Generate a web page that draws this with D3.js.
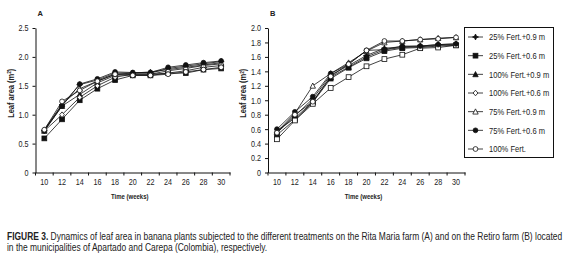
<!DOCTYPE html>
<html>
<head>
<meta charset="utf-8">
<script src="https://cdn.jsdelivr.net/npm/d3@7"></script>
<style>
  body { margin: 0; background: #fff; }
  svg text { font-family: "Liberation Sans", Arial, sans-serif; fill: #222; }
</style>
</head>
<body>
<div id="chart"></div>
<script>
// weeks on the x axis
let weeks = [10, 12, 14, 16, 18, 20, 22, 24, 26, 28, 30]
let seriesNames = ['25% Fert.+0.9 m', '25% Fert.+0.6 m', '100% Fert.+0.9 m', '100% Fert.+0.6 m',
                   '75% Fert.+0.9 m', '75% Fert.+0.6 m', '100% Fert.']
// marker per series: shape + filled
let markerShapes = ['star', 'square', 'triangle', 'diamond', 'triangle', 'circle', 'circle']
let markerFilled = [true, true, true, false, false, true, false]

// Rita Maria farm (A)
let farmA = [
  [0.73, 1.17, 1.52, 1.60, 1.72, 1.72, 1.72, 1.80, 1.84, 1.88, 1.92],
  [0.59, 0.92, 1.25, 1.45, 1.60, 1.68, 1.68, 1.72, 1.72, 1.78, 1.80],
  [0.72, 1.15, 1.35, 1.55, 1.68, 1.70, 1.70, 1.76, 1.80, 1.85, 1.88],
  [0.72, 1.00, 1.30, 1.50, 1.65, 1.70, 1.70, 1.72, 1.76, 1.82, 1.85],
  [0.74, 1.18, 1.45, 1.58, 1.70, 1.72, 1.74, 1.78, 1.82, 1.86, 1.90],
  [0.72, 1.15, 1.53, 1.62, 1.74, 1.73, 1.73, 1.82, 1.86, 1.90, 1.93],
  [0.74, 1.23, 1.42, 1.58, 1.70, 1.68, 1.68, 1.70, 1.74, 1.78, 1.82]
]
// Retiro farm (B)
let farmB = [
  [0.55, 0.78, 1.02, 1.35, 1.48, 1.62, 1.72, 1.74, 1.75, 1.77, 1.78],
  [0.52, 0.73, 0.97, 1.30, 1.45, 1.58, 1.68, 1.72, 1.73, 1.75, 1.76],
  [0.58, 0.75, 0.98, 1.32, 1.46, 1.60, 1.70, 1.73, 1.74, 1.76, 1.77],
  [0.46, 0.72, 0.95, 1.17, 1.32, 1.47, 1.57, 1.63, 1.72, 1.73, 1.76],
  [0.56, 0.82, 1.20, 1.37, 1.52, 1.68, 1.80, 1.82, 1.84, 1.86, 1.87],
  [0.60, 0.84, 1.05, 1.37, 1.50, 1.69, 1.70, 1.75, 1.75, 1.77, 1.78],
  [0.55, 0.80, 0.98, 1.33, 1.50, 1.69, 1.82, 1.82, 1.84, 1.85, 1.87]
]
let yTicksA = [0, 0.5, 1.0, 1.5, 2.0, 2.5]
let yTicksB = [0, 0.2, 0.4, 0.6, 0.8, 1.0, 1.2, 1.4, 1.6, 1.8, 2.0]

const W = 576, H = 255
const NARROW = 0.8   // horizontal squeeze to mimic a condensed face
let svg = d3.select('#chart').append('svg').attr('width', W).attr('height', H)

function marker(g, shape, filled, cx, cy) {
  let s = 2.4
  let el
  if (shape == 'circle') {
    el = g.append('circle').attr('cx', cx).attr('cy', cy).attr('r', s)
  } else if (shape == 'square') {
    el = g.append('rect').attr('x', cx - s).attr('y', cy - s).attr('width', 2 * s).attr('height', 2 * s)
  } else if (shape == 'triangle') {
    el = g.append('path').attr('d', `M${cx},${cy - s - 0.4}L${cx + s + 0.3},${cy + s}L${cx - s - 0.3},${cy + s}Z`)
  } else if (shape == 'star') {
    let a = s + 0.6, b = 0.9
    el = g.append('path').attr('d', `M${cx},${cy - a}L${cx + b},${cy - b}L${cx + a},${cy}L${cx + b},${cy + b}L${cx},${cy + a}L${cx - b},${cy + b}L${cx - a},${cy}L${cx - b},${cy - b}Z`)
  } else {
    el = g.append('path').attr('d', `M${cx},${cy - s - 0.4}L${cx + s},${cy}L${cx},${cy + s + 0.4}L${cx - s},${cy}Z`)
  }
  el.attr('fill', filled ? '#111' : '#fff').attr('stroke', '#111').attr('stroke-width', 0.8)
}

// squeezed text, anchored at (x, y)
function narrowText(g, x, y, size, k) {
  return g.append('g').attr('transform', `translate(${x},${y}) scale(${k || NARROW},1)`)
    .append('text').style('font-size', size + 'px')
}

function drawPanel(opts) {
  let x = d3.scaleBand().domain(weeks).range([opts.left, opts.right]).padding(0)
  let y = d3.scaleLinear().domain([0, opts.ymax]).range([opts.bottom, opts.top])
  let g = svg.append('g')

  // y axis
  let yAx = g.append('g').attr('transform', `translate(${opts.left},0)`)
    .call(d3.axisLeft(y).tickValues(opts.yTicks).tickSize(3).tickSizeOuter(0).tickFormat(d => d === 0 ? '0' : d3.format('.1f')(d)))
  yAx.select('.domain').attr('stroke', '#111')
  yAx.selectAll('.tick line').attr('stroke', '#111')
  yAx.selectAll('text').style('font-size', '9px').attr('fill', '#222')
    .attr('transform', `translate(-7,0) scale(${NARROW},1)`).attr('x', 0).attr('text-anchor', 'end')

  // x axis: labels centred, ticks between categories
  let xAx = g.append('g').attr('transform', `translate(0,${opts.bottom})`)
    .call(d3.axisBottom(x).tickSize(0).tickPadding(6))
  xAx.select('.domain').attr('stroke', '#111')
  xAx.selectAll('text').style('font-size', '9px').attr('fill', '#222')
    .attr('x', 0).attr('transform', `scale(${NARROW},1)`)
  xAx.selectAll('.bound').data(weeks.concat(['end'])).enter().append('line')
    .attr('x1', d => d === 'end' ? opts.right : x(d)).attr('x2', d => d === 'end' ? opts.right : x(d))
    .attr('y1', 0).attr('y2', 3).attr('stroke', '#111')

  // series
  let line = d3.line().x((d, i) => x(weeks[i]) + x.bandwidth() / 2).y(d => y(d))
  opts.data.forEach((vals, k) => {
    g.append('path').datum(vals).attr('d', line).attr('fill', 'none').attr('stroke', '#111').attr('stroke-width', 0.8)
  })
  opts.data.forEach((vals, k) => {
    let shape = (opts.plotSquare && k == 3) ? 'square' : markerShapes[k]
    vals.forEach((v, i) => marker(g, shape, markerFilled[k], x(weeks[i]) + x.bandwidth() / 2, y(v)))
  })

  // labels
  g.append('text').text(opts.name).attr('x', opts.left + 2).attr('y', 16).style('font-size', '7.5px').style('font-weight', 'bold')
  let yl = g.append('text').attr('transform', `translate(${opts.left - 22},${(opts.top + opts.bottom) / 2 - 7}) rotate(-90) scale(0.88,1)`)
    .attr('text-anchor', 'middle').style('font-size', '8.5px').style('font-weight', 'bold')
  yl.append('tspan').text('Leaf area (m')
  yl.append('tspan').text('2').attr('dy', -2.5).style('font-size', '5.5px')
  yl.append('tspan').text(')').attr('dy', 2.5)
  narrowText(g, (opts.left + opts.right) / 2 - 3, 199, 7.5).text('Time (weeks)')
    .attr('text-anchor', 'middle').style('font-weight', 'bold')
}

drawPanel({name: 'A', data: farmA, ymax: 2.5, yTicks: yTicksA, left: 35.5, right: 230, top: 28, bottom: 172.5})
drawPanel({name: 'B', data: farmB, ymax: 2.0, yTicks: yTicksB, left: 268, right: 465, top: 28, bottom: 172.5, plotSquare: true})

// legend
let leg = svg.append('g')
leg.append('rect').attr('x', 464.5).attr('y', 27.5).attr('width', 89).attr('height', 130)
  .attr('fill', '#fff').attr('stroke', '#111').attr('stroke-width', 1)
let legY = d3.scalePoint().domain(seriesNames).range([37, 149])
seriesNames.forEach((name, k) => {
  let cy = legY(name)
  leg.append('line').attr('x1', 468).attr('x2', 483).attr('y1', cy).attr('y2', cy).attr('stroke', '#111').attr('stroke-width', 0.8)
  marker(leg, markerShapes[k], markerFilled[k], 475.5, cy)
  narrowText(leg, 489, cy + 3.3, 9, 0.84).text(name)
})

// caption, squeezed to the reference line width
let cap1 = narrowText(svg, 7, 239.5, 10)
cap1.append('tspan').text('FIGURE 3.').style('font-weight', 'bold')
cap1.append('tspan').text(' Dynamics of leaf area in banana plants subjected to the different treatments on the Rita Maria farm (A) and on the Retiro farm (B) located')
let k1 = 555 / cap1.node().getComputedTextLength()
d3.select(cap1.node().parentNode).attr('transform', `translate(7,239.5) scale(${k1},1)`)
svg.append('g').attr('transform', `translate(7,250.5) scale(${k1},1)`)
  .append('text').style('font-size', '10px')
  .text('in the municipalities of Apartado and Carepa (Colombia), respectively.')
</script>
</body>
</html>
